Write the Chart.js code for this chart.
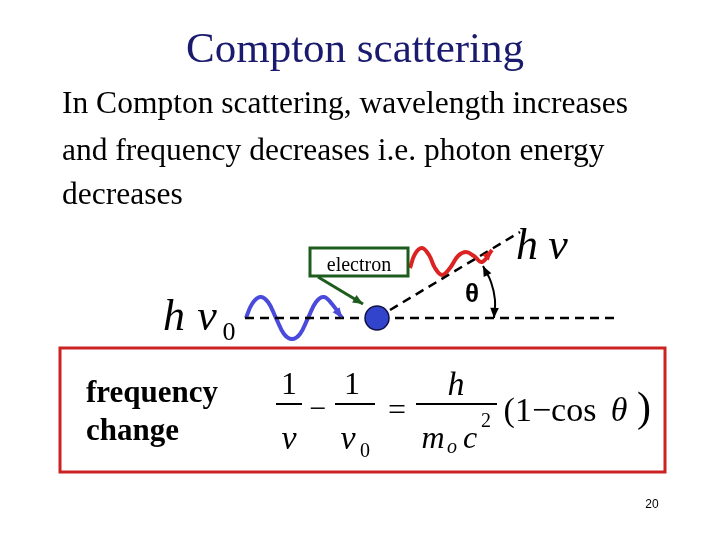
<!DOCTYPE html><html><head><script src="https://cdn.jsdelivr.net/npm/chart.js@4"></script>
<style>html,body{margin:0;background:#fff}#w{width:720px;height:540px}</style></head><body><div id="w"><canvas id="c"></canvas></div>
<script>
const incomingWave=[[246,318],[252,304],[260,297],[268,302],[276,318],[284,334],[292,339],[300,334],[308,318],[316,302],[324,297],[332,304],[342,318]];
const scatteredWave=[[410,268],[415,254],[422,248],[429,255],[435,268],[442,275],[450,268],[458,256],[466,252],[474,256],[482,262],[492,250]];
const baseline=[[245,318],[615,318]];
const scatterLine=[[390,310],[520,232]];
const electronArrow=[[318,277],[363,304]];
const electron=[[377,318]];
const thetaArc=[[483,266],[491,282],[495,300],[494,318]];
const boxes=[{x0:310,y0:248,x1:408,y1:276,color:'#1e5c1e',w:3},{x0:60,y0:348,x1:665,y1:472,color:'#cc2222',w:3}];
const texts=[
 {t:'Compton scattering',x:355,y:51,f:'43px "Liberation Serif"',c:'#1a1a6e',a:'center'},
 {t:'In Compton scattering, wavelength increases',x:62,y:105,f:'31.5px "Liberation Serif"',c:'#000',a:'left'},
 {t:'and frequency decreases i.e. photon energy',x:62,y:152,f:'31.5px "Liberation Serif"',c:'#000',a:'left'},
 {t:'decreases',x:62,y:196,f:'31.5px "Liberation Serif"',c:'#000',a:'left'},
 {t:'electron',x:359,y:266,f:'20px "Liberation Serif"',c:'#000',a:'center'},
 {t:'h',x:527,y:247,f:'italic 44px "Liberation Serif"',c:'#000',a:'center'},
 {t:'ν',x:558,y:247,f:'italic 44px "Liberation Serif"',c:'#000',a:'center'},
 {t:'h',x:174,y:318,f:'italic 44px "Liberation Serif"',c:'#000',a:'center'},
 {t:'ν',x:207,y:318,f:'italic 44px "Liberation Serif"',c:'#000',a:'center'},
 {t:'0',x:229,y:333,f:'26px "Liberation Serif"',c:'#000',a:'center'},
 {t:'θ',x:472,y:295,f:'bold 26px "Liberation Sans"',c:'#000',a:'center'},
 {t:'frequency',x:86,y:394,f:'bold 31px "Liberation Serif"',c:'#000',a:'left'},
 {t:'change',x:86,y:432,f:'bold 31px "Liberation Serif"',c:'#000',a:'left'},
 {t:'1',x:289,y:386,f:'32px "Liberation Serif"',c:'#000',a:'center'},
 {t:'ν',x:289,y:440,f:'italic 34px "Liberation Serif"',c:'#000',a:'center'},
 {t:'−',x:318,y:410,f:'30px "Liberation Serif"',c:'#000',a:'center'},
 {t:'1',x:352,y:386,f:'32px "Liberation Serif"',c:'#000',a:'center'},
 {t:'ν',x:348,y:440,f:'italic 34px "Liberation Serif"',c:'#000',a:'center'},
 {t:'0',x:365,y:452,f:'20px "Liberation Serif"',c:'#000',a:'center'},
 {t:'=',x:397,y:412,f:'32px "Liberation Serif"',c:'#000',a:'center'},
 {t:'h',x:456,y:386,f:'italic 34px "Liberation Serif"',c:'#000',a:'center'},
 {t:'m',x:433,y:440,f:'italic 32px "Liberation Serif"',c:'#000',a:'center'},
 {t:'o',x:452,y:448,f:'italic 20px "Liberation Serif"',c:'#000',a:'center'},
 {t:'c',x:470,y:440,f:'italic 32px "Liberation Serif"',c:'#000',a:'center'},
 {t:'2',x:486,y:422,f:'20px "Liberation Serif"',c:'#000',a:'center'},
 {t:'(1−cos',x:550,y:412,f:'34px "Liberation Serif"',c:'#000',a:'center'},
 {t:'θ',x:619,y:412,f:'italic 34px "Liberation Serif"',c:'#000',a:'center'},
 {t:')',x:644,y:410,f:'42px "Liberation Serif"',c:'#000',a:'center'},
 {t:'20',x:652,y:505,f:'12px "Liberation Sans"',c:'#000',a:'center'}];
const fracBars=[[[276,404],[302,404]],[[335,404],[375,404]],[[416,404],[497,404]]];
const P=a=>a.map(p=>({x:p[0],y:p[1]}));
const L=(d,c,w,extra)=>Object.assign({type:'scatter',data:P(d),showLine:true,borderColor:c,borderWidth:w,pointRadius:0,fill:false,tension:0},extra||{});
const ds=[
 {type:'scatter',data:P(electron),pointRadius:12,backgroundColor:'#3344cc',borderColor:'#111144',borderWidth:1.5},
 L(baseline,'#000',2.5,{borderDash:[9,6]}),
 L(scatterLine,'#000',2.5,{borderDash:[9,6]}),
 L(incomingWave,'#4a4adc',4,{tension:0.4}),
 L(scatteredWave,'#dd2222',4,{tension:0.4}),
 L(electronArrow,'#1e5c1e',3),
 L(thetaArc,'#000',2,{tension:0.4}),
 ...fracBars.map(b=>L(b,'#000',2))];
const deco={id:'deco',afterDatasetsDraw(ch){const x=ch.scales.x,y=ch.scales.y,g=ch.ctx;g.save();
 boxes.forEach(b=>{g.strokeStyle=b.color;g.lineWidth=b.w;g.strokeRect(x.getPixelForValue(b.x0),y.getPixelForValue(b.y0),x.getPixelForValue(b.x1)-x.getPixelForValue(b.x0),y.getPixelForValue(b.y1)-y.getPixelForValue(b.y0));});
 const head=(seg,c)=>{const [a,b]=[seg[seg.length-2],seg[seg.length-1]];const ax=x.getPixelForValue(a[0]),ay=y.getPixelForValue(a[1]),bx=x.getPixelForValue(b[0]),by=y.getPixelForValue(b[1]);const an=Math.atan2(by-ay,bx-ax);g.fillStyle=c;g.beginPath();g.moveTo(bx,by);g.lineTo(bx-11*Math.cos(an-0.4),by-11*Math.sin(an-0.4));g.lineTo(bx-11*Math.cos(an+0.4),by-11*Math.sin(an+0.4));g.fill();};
 head(electronArrow,'#1e5c1e');head(incomingWave,'#4a4adc');head(scatteredWave,'#dd2222');head(thetaArc,'#000');head(thetaArc.slice(0,2).reverse(),'#000');
 g.textBaseline='middle';texts.forEach(t=>{g.font=t.f;g.fillStyle=t.c;g.textAlign=t.a;g.fillText(t.t,x.getPixelForValue(t.x),y.getPixelForValue(t.y));});g.restore();}};
new Chart(document.getElementById('c'),{data:{datasets:ds},plugins:[deco],options:{responsive:true,maintainAspectRatio:false,animation:false,layout:{padding:0,autoPadding:false},
 plugins:{legend:{display:false},tooltip:{enabled:false}},
 scales:{x:{type:'linear',min:0,max:720,display:false},y:{type:'linear',min:0,max:540,reverse:true,display:false}}}});
</script></body></html>
